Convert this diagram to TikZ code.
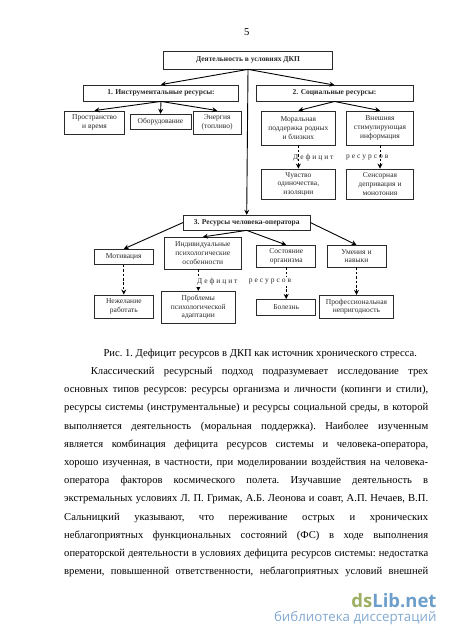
\documentclass[tikz,border=0pt]{standalone}
\usepackage{fontspec}
\setmainfont{Liberation Serif}
\newfontfamily\wmfont{Open Sans}
\usetikzlibrary{arrows.meta}
\definecolor{inkc}{HTML}{2A2A2A}
\definecolor{wmgreen}{HTML}{9DAF62}
\definecolor{wmblue}{HTML}{6C9FCB}
\definecolor{wmblue2}{HTML}{82A9D0}
\newcommand{\Jl}[1]{\hbox to 364pt{#1}}
\newcommand{\Sp}{\kern1.95pt\relax}
\tikzset{
 bx/.style={draw=inkc,line width=.85pt,fill=white,inner sep=0pt,align=center,text=inkc,font=\fontsize{7.5}{8.7}\selectfont},
 hd/.style={bx,font=\fontsize{7.5}{8.7}\selectfont\bfseries},
 arr/.style={draw=black,line width=.9pt,-{Stealth[length=5pt,width=5pt]}},
 dsh/.style={arr,dash pattern=on 2.6pt off 1.8pt},
 lbl/.style={inner sep=0pt,text=inkc,font=\fontsize{7.5}{8.7}\selectfont},
 lblw/.style={lbl,fill=white,inner ysep=2pt,inner xsep=1pt},
 body/.style={inner sep=0pt,text=black,font=\fontsize{10.6}{18.2}\selectfont\frenchspacing}
}
\begin{document}
\begin{tikzpicture}[x=1pt,y=-1pt]
\useasboundingbox (0,0) rectangle (450,637);
\fill[white] (0,0) rectangle (450,637);
\node[body] (pg) at (246.7,32) {5};
% boxes
\node[hd,minimum width=169pt,minimum height=17.5pt] (top) at (248,60.2) {Деятельность в условиях ДКП};
\node[hd,minimum width=155pt,minimum height=16pt] (b1) at (161,93) {1. Инструментальные ресурсы:};
\node[bx,minimum width=60pt,minimum height=23pt] (pr) at (94.5,122.5) {Пространство\\и время};
\node[bx,minimum width=61pt,minimum height=15pt] (ob) at (160.5,121.7) {Оборудование};
\node[bx,minimum width=48.5pt,minimum height=23pt] (en) at (217.2,122.5) {Энергия\\(топливо)};
\node[hd,minimum width=157pt,minimum height=15.5pt] (b2) at (334.5,93.3) {2. Социальные ресурсы:};
\node[bx,minimum width=73.3pt,minimum height=34pt] (mor) at (298.4,128) {Моральная\\поддержка родных\\и близких};
\node[bx,minimum width=66.3pt,minimum height=34pt] (vn) at (380,128) {Внешняя\\стимулирующая\\информация};
\node[bx,minimum width=73.3pt,minimum height=30pt] (ch) at (298.4,184) {Чувство\\одиночества,\\изоляции};
\node[bx,minimum width=66.3pt,minimum height=30pt] (sen) at (380,184) {Сенсорная\\депривация и\\монотония};
\node[hd,minimum width=126.7pt,minimum height=14.7pt] (b3) at (246.7,222.6) {3. Ресурсы человека-оператора};
\node[bx,minimum width=59pt,minimum height=15pt] (mot) at (123.8,256.8) {Мотивация};
\node[bx,minimum width=77.7pt,minimum height=31.7pt] (ind) at (202.8,253.2) {Индивидуальные\\психологические\\особенности};
\node[bx,minimum width=59pt,minimum height=21.7pt] (sost) at (286.2,256.2) {Состояние\\организма};
\node[bx,minimum width=59pt,minimum height=21.7pt] (um) at (356.5,256.2) {Умения и\\навыки};
\node[bx,minimum width=59pt,minimum height=23.3pt] (nezh) at (123.8,306.6) {Нежелание\\работать};
\node[bx,minimum width=74.7pt,minimum height=32pt] (prob) at (198.3,307.3) {Проблемы\\психологической\\адаптации};
\node[bx,minimum width=59pt,minimum height=15.7pt] (bol) at (286.2,307.2) {Болезнь};
\node[bx,minimum width=73.6pt,minimum height=23pt] (prof) at (356.5,306.8) {Профессиональная\\непригодность};
% solid connectors
\draw[arr] (top.south) -- (b1.north);
\draw[arr] (top.south) -- (b2.north);
\draw[arr] (top.south) -- (b3.north);
\draw[arr] (b1.south) -- (pr.north);
\draw[arr] (b1.south) -- (ob.north);
\draw[arr] (b1.south) -- (en.north);
\draw[arr] (b2.south) -- (mor.north);
\draw[arr] (b2.south) -- (vn.north);
\draw[arr] (b3.west) -- (mot.north);
\draw[arr] (b3.south) -- (ind.north);
\draw[arr] (b3.south) -- (sost.north);
\draw[arr] (b3.east) -- (um.north);
% dashed connectors
\draw[dsh] (mor.south) -- (ch.north);
\draw[dsh] (vn.south) -- (sen.north);
\draw[dsh] (mot.south) -- (nezh.north);
\draw[dsh] (prob.north |- ind.south) -- (prob.north);
\draw[dsh] (sost.south) -- (bol.north);
\draw[dsh] (um.south) -- (prof.north);
% deficit labels
\node[lbl,anchor=west] (d1) at (293,158) {Д\Sp е\Sp ф\Sp и\Sp ц\Sp и\Sp т};
\node[lbl,anchor=west] (r1) at (346,158) {р\Sp е\Sp с\Sp у\Sp р\Sp с\Sp о\Sp в};
\node[lblw,anchor=west] (d2) at (196,281.7) {Д\Sp е\Sp ф\Sp и\Sp ц\Sp и\Sp т};
\node[lblw,anchor=west] (r2) at (247.7,281.7) {р\Sp е\Sp с\Sp у\Sp р\Sp с\Sp о\Sp в};
% caption and body
\node[body,anchor=base west] (cap) at (103.3,356) {Рис. 1. Дефицит ресурсов в ДКП как источник хронического стресса.};
\node[body,anchor=north west] (txt) at (64,367) {\vbox{\hsize=364pt\baselineskip=18.2pt
\Jl{\hspace*{26.7pt}Классический ресурсный подход подразумевает исследование трех}
\Jl{основных типов ресурсов: ресурсы организма и личности (копинги и стили),}
\Jl{ресурсы системы (инструментальные) и ресурсы социальной среды, в которой}
\Jl{выполняется деятельность (моральная поддержка). Наиболее изученным}
\Jl{является комбинация дефицита ресурсов системы и человека-оператора,}
\Jl{хорошо изученная, в частности, при моделировании воздействия на человека-}
\Jl{оператора факторов космического полета. Изучавшие деятельность в}
\Jl{экстремальных условиях Л. П. Гримак, А.Б. Леонова и соавт, А.П. Нечаев, В.П.}
\Jl{Сальницкий указывают, что переживание острых и хронических}
\Jl{неблагоприятных функциональных состояний (ФС) в ходе выполнения}
\Jl{операторской деятельности в условиях дефицита ресурсов системы: недостатка}
\Jl{времени, повышенной ответственности, неблагоприятных условий внешней}
}};
% watermark
\node[inner sep=0pt,anchor=base east,font=\wmfont\bfseries\fontsize{18.5}{19}\selectfont] (wm) at (436.7,607) {\textcolor{wmgreen}{ds}\textcolor{wmblue}{Lib.net}};
\node[inner sep=0pt,anchor=base east,text=wmblue2,font=\wmfont\fontsize{13.3}{14}\selectfont] (wm2) at (436.7,621) {библиотека диссертаций};
\end{tikzpicture}
\end{document}
